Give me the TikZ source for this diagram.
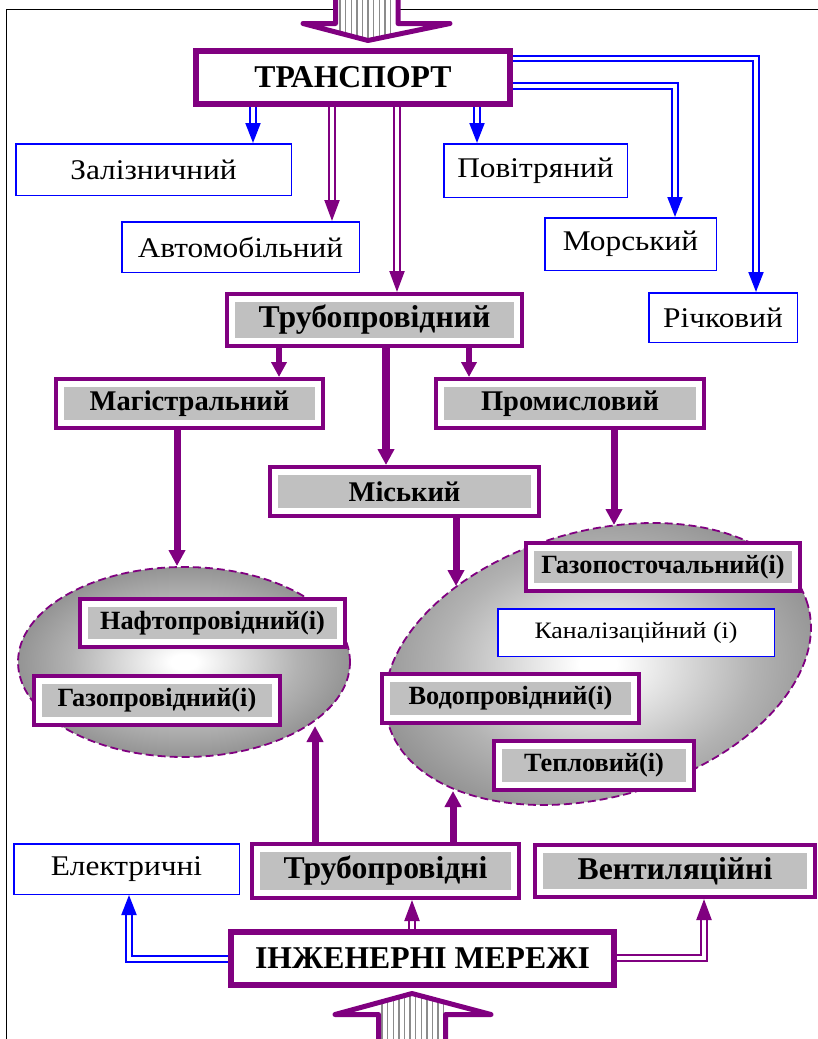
\documentclass[tikz,border=0pt]{standalone}
\usepackage{fontspec}
\setmainfont{Liberation Serif}
\newfontfamily\regwide[FakeStretch=1.1]{Liberation Serif}
\usetikzlibrary{arrows.meta,shapes.geometric}
\definecolor{vio}{RGB}{128,0,128}
\definecolor{bl}{RGB}{0,0,255}
\definecolor{silv}{RGB}{192,192,192}
\pgfdeclarelayer{shapes}
\pgfdeclarelayer{links}
\pgfsetlayers{shapes,links,main}
% white centre fading to mid grey at the rim (25bp = rim of the filled path)
\pgfdeclareradialshading{ellshade}{\pgfpoint{0bp}{0bp}}{color(0bp)=(white); color(2bp)=(white); color(17bp)=(black!30); color(25bp)=(black!42); color(50bp)=(black!42)}
\newcommand{\fntBig}{\fontsize{31.7}{31.7}\selectfont\bfseries}
\newcommand{\fntMid}{\fontsize{28.5}{28.5}\selectfont\bfseries}
\newcommand{\fntSm}{\fontsize{26.3}{26.3}\selectfont\bfseries}
\newcommand{\fntReg}{\fontsize{28.5}{28.5}\regwide}
\newcommand{\fntRegS}{\fontsize{23.5}{23.5}\regwide}
\begin{document}
\begin{tikzpicture}[x=1pt,y=-1pt,
  bluebox/.style={draw=bl, line width=1.5pt, fill=white, inner sep=0pt, font=\fntReg},
  vframe/.style={draw=vio, line width=6pt, fill=white, inner sep=0pt, font=\fntBig},
  vbox/.style={draw=vio, line width=4pt, fill=white, inner sep=0pt,
    path picture={\fill[silv] ([xshift=8pt,yshift=-8pt]path picture bounding box.north west)
      rectangle ([xshift=-8pt,yshift=8pt]path picture bounding box.south east);}},
  netell/.style={ellipse, draw=vio, line width=1.8pt, dash pattern=on 8pt off 4pt,
    shading=ellshade, inner sep=0pt},
  bdbl/.style={draw=bl, line width=2pt, double=white, double distance=3.5pt,
    -{Triangle[length=20pt,width=15pt]}},
  vdbl/.style={draw=vio, line width=2.2pt, double=white, double distance=3.5pt,
    -{Triangle[length=21pt,width=15pt]}},
  varr/.style={draw=vio, line width=7pt, -{Triangle[length=16pt,width=16pt]}},
  varrs/.style={draw=vio, line width=6pt, -{Triangle[length=15pt,width=15pt]}},
  blockarrow/.style={draw=vio, line width=5pt, line join=round},
  stripe/.style={draw=black!45, line width=1.4pt}
]
\useasboundingbox (0,0) rectangle (817,1039);

% page frame
\draw[line width=1.4pt] (6.5,1050) -- (6.5,9.5) -- (830,9.5);

% incoming block arrow at the top
\fill[white] (335.5,-10) -- (335.5,23.5) -- (303,23.5) -- (368,40.5) -- (450,23.5) -- (398,23.5) -- (398,-10) -- cycle;
\begin{scope}
  \clip (335.5,-10) -- (335.5,23.5) -- (303,23.5) -- (368,40.5) -- (450,23.5) -- (398,23.5) -- (398,-10) -- cycle;
  \foreach \x in {340,345.6,...,396} \draw[stripe] (\x,-10) -- (\x,45);
\end{scope}
\draw[blockarrow] (335.5,-10) -- (335.5,23.5) -- (303,23.5) -- (368,40.5) -- (450,23.5) -- (398,23.5) -- (398,-10);

% incoming block arrow at the bottom
\fill[white] (378.5,1050) -- (378.5,1014.5) -- (335,1014.5) -- (412,993.5) -- (491,1014.5) -- (445.5,1014.5) -- (445.5,1050) -- cycle;
\begin{scope}
  \clip (378.5,1050) -- (378.5,1014.5) -- (335,1014.5) -- (412,993.5) -- (491,1014.5) -- (445.5,1014.5) -- (445.5,1050) -- cycle;
  \foreach \x in {382,387.6,...,444} \draw[stripe] (\x,990) -- (\x,1050);
\end{scope}
\draw[blockarrow] (378.5,1050) -- (378.5,1014.5) -- (335,1014.5) -- (412,993.5) -- (491,1014.5) -- (445.5,1014.5) -- (445.5,1050);

% network groups
\begin{pgfonlayer}{shapes}
  \node[netell, minimum width=332pt, minimum height=190pt] (ellL) at (184,662) {};
  \node[netell, rotate=15.7, minimum width=436pt, minimum height=266pt] (ellR) at (598,664) {};
\end{pgfonlayer}

% boxes
\node[vframe, minimum width=314pt, minimum height=53pt] (trans) at (353,77.5) {ТРАНСПОРТ};
\node[bluebox, minimum width=275.5pt, minimum height=51.5pt] (zal) at (153.5,169.5) {Залізничний};
\node[bluebox, minimum width=237.5pt, minimum height=50.5pt] (avto) at (240.5,247) {Автомобільний};
\node[bluebox, minimum width=183.5pt, minimum height=53.5pt] (pov) at (535.5,170.5) {Повітряний};
\node[bluebox, minimum width=171.5pt, minimum height=52.5pt] (mor) at (630.5,244) {Морський};
\node[bluebox, minimum width=148.5pt, minimum height=49.5pt] (rich) at (723,317.5) {Річковий};

\node[vbox, font=\fntBig, minimum width=295pt, minimum height=52pt] (trub) at (374.5,320) {Трубопровідний};
\node[vbox, font=\fntMid, minimum width=267pt, minimum height=49pt] (mag) at (189.5,403.5) {Магістральний};
\node[vbox, font=\fntMid, minimum width=268pt, minimum height=49pt] (prom) at (570,403.5) {Промисловий};
\node[vbox, font=\fntMid, minimum width=269pt, minimum height=49pt] (mis) at (404.5,491.5) {Міський};

\node[vbox, font=\fntSm, minimum width=265pt, minimum height=48pt] (naft) at (212.5,623) {Нафтопровідний(і)};
\node[vbox, font=\fntSm, minimum width=246pt, minimum height=49pt] (gazpr) at (157,700.5) {Газопровідний(і)};
\node[vbox, font=\fntSm, minimum width=274pt, minimum height=48pt] (gazpos) at (663,567) {Газопосточальний(і)};
\node[bluebox, font=\fntRegS, minimum width=276.5pt, minimum height=47.5pt] (kan) at (636,632.5) {Каналізаційний (і)};
\node[vbox, font=\fntSm, minimum width=257pt, minimum height=49pt] (vod) at (510.5,698.5) {Водопровідний(і)};
\node[vbox, font=\fntSm, minimum width=200pt, minimum height=49pt] (tepl) at (594,765.5) {Тепловий(і)};

\node[bluebox, minimum width=225.5pt, minimum height=50.5pt] (elek) at (126.5,869) {Електричні};
\node[vbox, font=\fntBig, minimum width=267pt, minimum height=54pt] (trubs) at (385.5,871) {Трубопровідні};
\node[vbox, font=\fntBig, minimum width=280pt, minimum height=52pt] (vent) at (675,871) {Вентиляційні};
\node[vframe, minimum width=383pt, minimum height=53pt] (inzh) at (422.5,958.5) {ІНЖЕНЕРНІ МЕРЕЖІ};

% connectors
\begin{pgfonlayer}{links}
  \coordinate (xZal) at (253,0);
  \coordinate (xAvto) at (332,0);
  \coordinate (xTrub) at (397,0);
  \coordinate (xPov) at (477,0);
  \coordinate (kMor) at (675,86);
  \coordinate (kRich) at (756,58.5);
  \draw[bdbl] (trans.south -| xZal) -- (zal.north -| xZal);
  \draw[vdbl] (trans.south -| xAvto) -- (avto.north -| xAvto);
  \draw[vdbl] (trans.south -| xTrub) -- (trub.north -| xTrub);
  \draw[bdbl] (trans.south -| xPov) -- (pov.north -| xPov);
  \draw[bdbl] (trans.east |- kMor) -- (kMor) -- (mor.north -| kMor);
  \draw[bdbl] (trans.east |- kRich) -- (kRich) -- (rich.north -| kRich);

  \coordinate (xMag) at (279,0);
  \coordinate (xMis) at (386,0);
  \coordinate (xProm) at (469,0);
  \draw[varrs] (trub.south -| xMag) -- (mag.north -| xMag);
  \draw[varrs] (trub.south -| xProm) -- (prom.north -| xProm);
  \draw[varr, line width=8pt] (trub.south -| xMis) -- (mis.north -| xMis);

  \coordinate (inL1) at (177,566);
  \coordinate (inR1) at (614,525);
  \coordinate (inR2) at (456,586);
  \coordinate (inL2) at (315,726);
  \coordinate (inR3) at (453,791);
  \draw[varr] (mag.south -| inL1) -- (inL1);
  \draw[varr] (prom.south -| inR1) -- (inR1);
  \draw[varr] (mis.south -| inR2) -- (inR2);
  \draw[varr] (trubs.north -| inL2) -- (inL2);
  \draw[varr] (trubs.north -| inR3) -- (inR3);

  \coordinate (xTrubs) at (412,0);
  \coordinate (kElek) at (129,959);
  \coordinate (kVent) at (704,958);
  \draw[vdbl] (inzh.north -| xTrubs) -- (trubs.south -| xTrubs);
  \draw[bdbl] (inzh.west |- kElek) -- (kElek) -- (elek.south -| kElek);
  \draw[vdbl] (inzh.east |- kVent) -- (kVent) -- (vent.south -| kVent);
\end{pgfonlayer}
\end{tikzpicture}
\end{document}
